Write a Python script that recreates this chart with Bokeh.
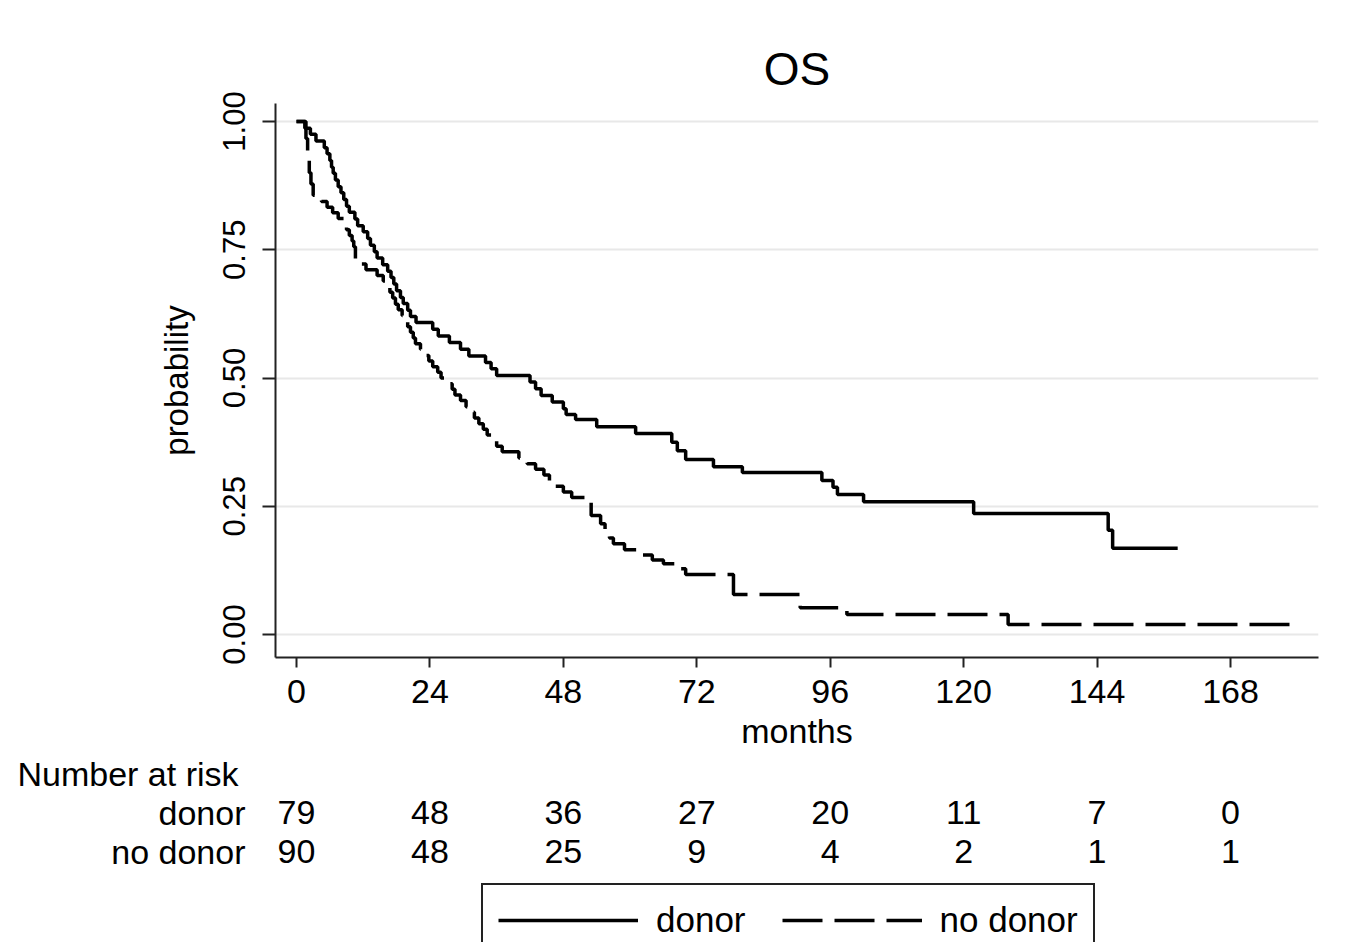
from bokeh.plotting import figure
from bokeh.layouts import column
from bokeh.models import (ColumnDataSource, Legend, LegendItem,
                          FixedTicker, NumeralTickFormatter, Range1d)
from bokeh.embed import file_html
from bokeh.resources import INLINE

# ---------------- data ----------------
donor_t = [0, 1.5, 2.5, 3.5, 5.0, 5.5, 6.0, 6.3, 6.6, 7.0, 7.5, 8.0, 8.5, 9.0, 9.5,
           10.5, 11.0, 12.0, 12.8, 13.3, 14.0, 14.5, 15.5, 16.4, 17.0, 17.5, 18.0,
           18.7, 19.2, 20.0, 20.5, 21.5, 24.5, 25.5, 27.5, 29.5, 31.0, 34.0, 35.0,
           36.0, 42.0, 43.0, 44.0, 46.0, 48.0, 48.5, 50.2, 54.0, 61.0, 67.5, 68.5,
           70.0, 75.0, 80.2, 94.5, 96.5, 97.3, 102.0, 121.8, 146.0, 146.8, 158.5]
donor_s = [1.0, 0.987, 0.975, 0.962, 0.949, 0.937, 0.924, 0.911, 0.899, 0.886, 0.873,
           0.861, 0.848, 0.835, 0.823, 0.810, 0.797, 0.785, 0.772, 0.759, 0.746, 0.734,
           0.721, 0.708, 0.696, 0.683, 0.670, 0.657, 0.645, 0.632, 0.620, 0.608, 0.595,
           0.582, 0.569, 0.556, 0.543, 0.530, 0.518, 0.505, 0.492, 0.479, 0.466, 0.453,
           0.440, 0.429, 0.419, 0.405, 0.392, 0.375, 0.358, 0.341, 0.327, 0.316, 0.300,
           0.287, 0.273, 0.259, 0.236, 0.203, 0.168, 0.168]

nodonor_t = [0, 1.7, 2.0, 2.3, 2.6, 3.0, 4.5, 5.5, 6.5, 7.5, 8.5, 9.0, 9.5, 10.0, 10.3,
             10.6, 12.5, 14.5, 15.6, 16.2, 16.8, 17.3, 17.8, 18.3, 19.0, 19.6, 20.0,
             20.5, 21.0, 21.4, 22.3, 23.0, 23.8, 24.5, 25.4, 26.0, 27.0, 28.0, 28.5,
             29.5, 30.5, 31.2, 32.0, 32.8, 33.6, 34.3, 35.0, 36.0, 37.0, 40.0, 41.5,
             43.0, 44.5, 45.5, 46.5, 48.0, 49.5, 53.0, 54.7, 55.5, 56.3, 57.0, 59.0,
             61.5, 64.0, 66.0, 68.0, 70.0, 78.6, 90.6, 99.0, 128.0, 180.0]
nodonor_s = [1.0, 0.967, 0.933, 0.900, 0.878, 0.856, 0.844, 0.833, 0.822, 0.811, 0.800,
             0.789, 0.778, 0.767, 0.756, 0.722, 0.711, 0.700, 0.689, 0.678, 0.667,
             0.656, 0.644, 0.633, 0.622, 0.611, 0.600, 0.589, 0.578, 0.567, 0.556,
             0.544, 0.533, 0.522, 0.511, 0.500, 0.489, 0.478, 0.467, 0.456, 0.444,
             0.433, 0.422, 0.411, 0.400, 0.389, 0.378, 0.367, 0.356, 0.344, 0.333,
             0.322, 0.311, 0.300, 0.289, 0.278, 0.267, 0.232, 0.216, 0.200, 0.188,
             0.177, 0.165, 0.155, 0.145, 0.138, 0.128, 0.117, 0.078, 0.052, 0.039,
             0.0195, 0.0195]

risk_months = [0, 24, 48, 72, 96, 120, 144, 168]
risk_donor = [79, 48, 36, 27, 20, 11, 7, 0]
risk_nodonor = [90, 48, 25, 9, 4, 2, 1, 1]
x_ticks = [0, 24, 48, 72, 96, 120, 144, 168]
y_ticks = [0, 0.25, 0.5, 0.75, 1.0]
group_labels = ["donor", "no donor"]

# ---------------- layout (page pixel positions) ----------------
FONT = "Liberation Sans"
W, H = 1347, 942
SPLIT = 754                     # page y where the risk-table panel starts
FL, FR, FT, FB = 275, 1318, 103, 657
X0, X168 = 296, 1230
Y0, Y1 = 634, 121
mx = (X168 - X0) / 168.0
my = (Y0 - Y1) / 1.0


def xd(X):
    return (X - X0) / mx


def yd(Y):
    return (Y0 - Y) / my


# ---------------- main survival plot ----------------
p = figure(width=W, height=SPLIT, output_backend="svg", toolbar_location=None,
           x_range=Range1d(xd(FL), xd(FR)), y_range=Range1d(yd(FB), yd(FT)),
           min_border_left=FL, min_border_right=W - FR,
           min_border_top=FT, min_border_bottom=SPLIT - FB)
p.frame_align = False
p.outline_line_color = None
p.background_fill_color = "white"
p.border_fill_color = "white"
p.xgrid.visible = False
p.ygrid.grid_line_color = "#e8e8e8"
p.ygrid.grid_line_width = 2

p.title.text = "OS"
p.title.align = "center"
p.title.text_font = FONT
p.title.text_font_size = "46px"
p.title.text_font_style = "normal"
p.title.text_color = "black"
p.title.standoff = 17

xa = p.xaxis[0]
xa.ticker = FixedTicker(ticks=x_ticks)
xa.axis_label = "months"
xa.axis_label_text_font = FONT
xa.axis_label_text_font_size = "34px"
xa.axis_label_text_font_style = "normal"
xa.axis_label_text_color = "black"
xa.axis_label_standoff = 6
xa.major_label_text_font = FONT
xa.major_label_text_font_size = "34px"
xa.major_label_text_color = "black"
xa.major_label_standoff = 12
xa.minor_tick_line_color = None
xa.major_tick_in = 0
xa.major_tick_out = 10
xa.major_tick_line_width = 2
xa.axis_line_width = 2
xa.axis_line_color = "#222222"
xa.major_tick_line_color = "#222222"

ya = p.yaxis[0]
ya.ticker = FixedTicker(ticks=y_ticks)
ya.formatter = NumeralTickFormatter(format="0.00")
ya.major_label_orientation = "vertical"
ya.axis_label = "probability"
ya.axis_label_text_font = FONT
ya.axis_label_text_font_size = "33px"
ya.axis_label_text_font_style = "normal"
ya.axis_label_text_color = "black"
ya.axis_label_standoff = 25
ya.major_label_text_font = FONT
ya.major_label_text_font_size = "31px"
ya.major_label_text_color = "black"
ya.major_label_standoff = 18
ya.minor_tick_line_color = None
ya.major_tick_in = 0
ya.major_tick_out = 13
ya.major_tick_line_width = 2
ya.axis_line_width = 2
ya.axis_line_color = "#222222"
ya.major_tick_line_color = "#222222"

src_d = ColumnDataSource(dict(t=donor_t, s=donor_s))
src_n = ColumnDataSource(dict(t=nodonor_t, s=nodonor_s))
solid_style = dict(line_color="black", line_width=3.5)
dash_style = dict(line_color="black", line_width=3.5, line_dash="40 12")
p.step(x="t", y="s", source=src_d, mode="after", **solid_style)
p.step(x="t", y="s", source=src_n, mode="after", **dash_style)

# ---------------- number-at-risk table + legend panel ----------------
HB = H - SPLIT
q = figure(width=W, height=HB, output_backend="svg", toolbar_location=None,
           x_range=Range1d(xd(0), xd(W)), y_range=Range1d(H, SPLIT),
           x_axis_type=None, y_axis_type=None,
           min_border_left=0, min_border_right=0, min_border_top=0, min_border_bottom=0)
q.frame_align = False
q.outline_line_color = None
q.xgrid.visible = False
q.ygrid.visible = False
q.background_fill_color = "white"
q.border_fill_color = "white"

head_src = ColumnDataSource(dict(x=[xd(17)], y=[773], text=["Number at risk"]))
q.text(x="x", y="y", text="text", source=head_src, text_align="left",
       text_baseline="middle", text_font={"value": FONT}, text_font_size="34px",
       text_color="black")
row_src = ColumnDataSource(dict(x=[xd(245), xd(245)], y=[812, 851], text=group_labels))
q.text(x="x", y="y", text="text", source=row_src, text_align="right",
       text_baseline="middle", text_font={"value": FONT}, text_font_size="34px",
       text_color="black")
for vals, Yrow in zip([risk_donor, risk_nodonor], [812, 851]):
    src = ColumnDataSource(dict(x=risk_months, y=[Yrow] * len(risk_months),
                                text=[str(v) for v in vals]))
    q.text(x="x", y="y", text="text", source=src, text_align="center",
           text_baseline="middle", text_font={"value": FONT}, text_font_size="34px",
           text_color="black")

# legend: same curves re-added to this panel (they fall outside its visible range,
# so only their legend samples show)
leg_d = q.step(x="t", y="s", source=src_d, mode="after", **solid_style)
leg_n = q.step(x="t", y="s", source=src_n, mode="after", **dash_style)
LEG_H = 73
legend = Legend(items=[LegendItem(label=group_labels[0], renderers=[leg_d]),
                       LegendItem(label=group_labels[1], renderers=[leg_n])],
                location=(481, HB - (884 - SPLIT) - LEG_H), orientation="horizontal",
                border_line_color="#222222", border_line_width=2, border_line_alpha=1.0,
                background_fill_color="white", background_fill_alpha=1.0,
                label_text_font=FONT, label_text_font_size="35px",
                label_text_color="black",
                glyph_width=140, glyph_height=20, label_standoff=18, spacing=36,
                padding=15, margin=0)
q.add_layout(legend)

open("out.html", "w").write(file_html(column(p, q), INLINE))
